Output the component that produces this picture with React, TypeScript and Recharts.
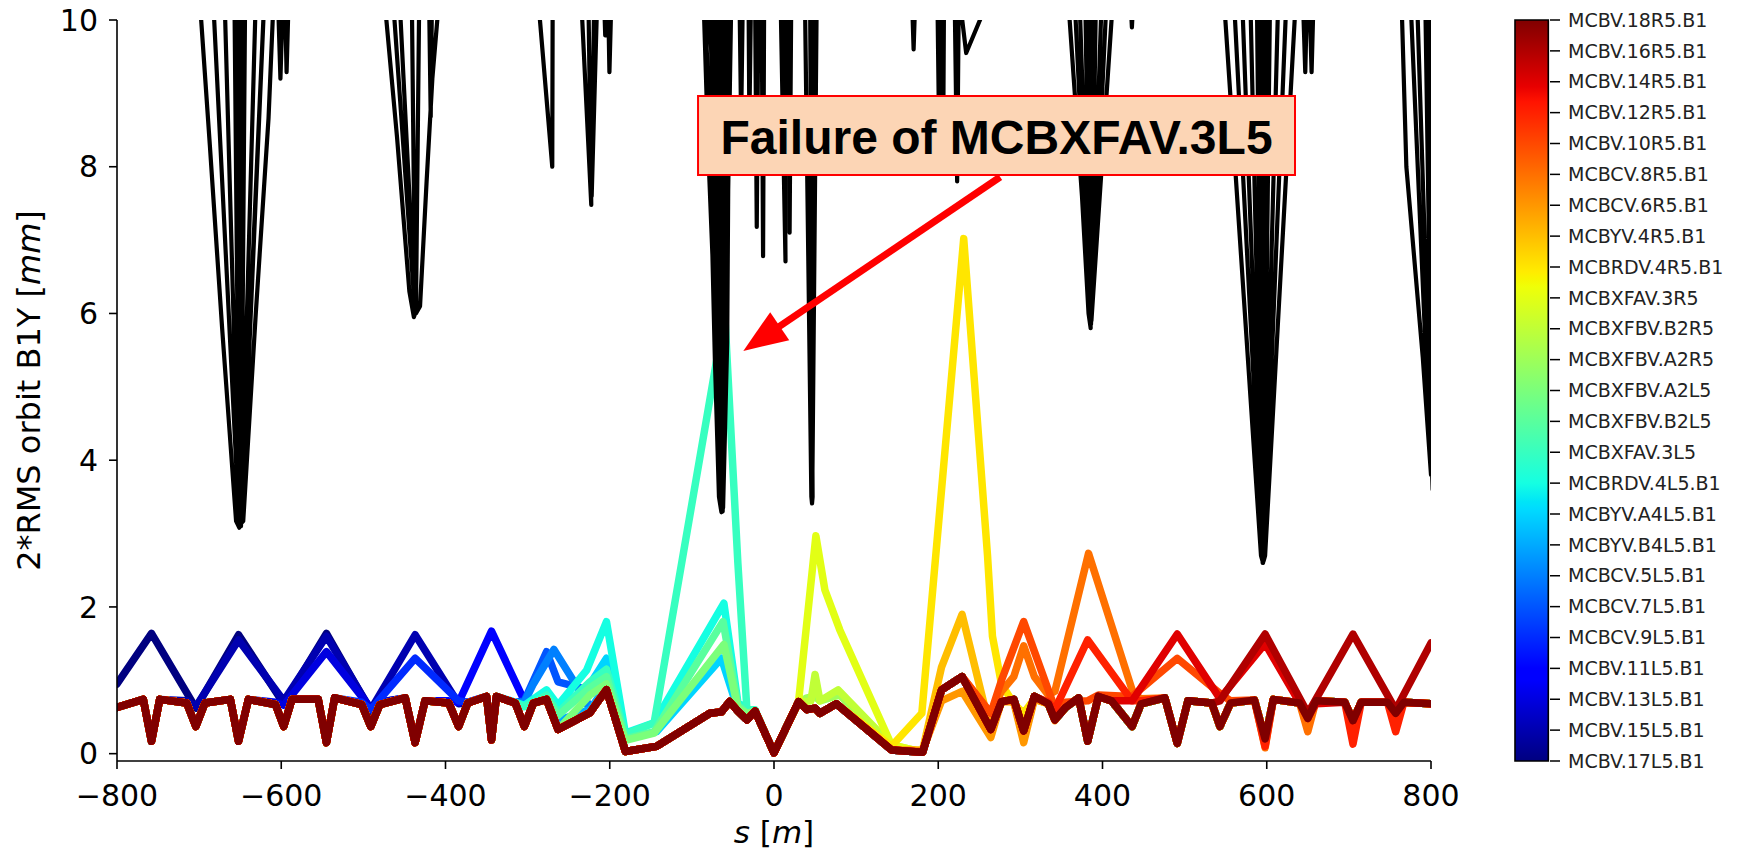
import React from 'react';
import { ComposedChart, BarChart, Bar, Line, XAxis, YAxis, ReferenceArea, ReferenceLine } from 'recharts';

type P = [number, number];

const FONT = '"DejaVu Sans", sans-serif';
const X_TICKS = [-800, -600, -400, -200, 0, 200, 400, 600, 800];
const Y_TICKS = [0, 2, 4, 6, 8, 10];

// colorbar labels, bottom (index 0) to top (index 24)
const CORRECTORS = [
  'MCBV.17L5.B1', 'MCBV.15L5.B1', 'MCBV.13L5.B1', 'MCBV.11L5.B1', 'MCBCV.9L5.B1', 'MCBCV.7L5.B1',
  'MCBCV.5L5.B1', 'MCBYV.B4L5.B1', 'MCBYV.A4L5.B1', 'MCBRDV.4L5.B1', 'MCBXFAV.3L5', 'MCBXFBV.B2L5',
  'MCBXFBV.A2L5', 'MCBXFBV.A2R5', 'MCBXFBV.B2R5', 'MCBXFAV.3R5', 'MCBRDV.4R5.B1', 'MCBYV.4R5.B1',
  'MCBCV.6R5.B1', 'MCBCV.8R5.B1', 'MCBV.10R5.B1', 'MCBV.12R5.B1', 'MCBV.14R5.B1', 'MCBV.16R5.B1',
  'MCBV.18R5.B1',
];

// common orbit response at the BPMs (s in m, 2*RMS in mm)
const BASE_S = [-800, -768, -758, -748, -715, -704, -693, -662, -652, -640, -607, -597, -587, -555, -545, -535, -502, -491, -480, -449, -437, -425, -396, -384, -373, -350, -344, -338, -315, -304, -293, -277, -263, -224, -212, -204, -181, -143, -78, -64, -54, -44, -33, -23, 0, 30, 40, 50, 56, 76, 143, 181, 204, 229, 264, 277, 292, 304, 317, 334, 342, 355, 371, 382, 395, 411, 436, 447, 476, 491, 504, 533, 543, 556, 585, 598, 608, 640, 650, 660, 695, 705, 715, 747, 757, 767, 800];
const BASE_V = [0.63, 0.74, 0.17, 0.74, 0.69, 0.37, 0.69, 0.74, 0.17, 0.74, 0.67, 0.37, 0.74, 0.74, 0.15, 0.76, 0.67, 0.37, 0.67, 0.76, 0.15, 0.72, 0.69, 0.37, 0.69, 0.78, 0.19, 0.78, 0.69, 0.37, 0.69, 0.74, 0.33, 0.56, 0.75, 0.87, 0.03, 0.10, 0.55, 0.57, 0.71, 0.58, 0.46, 0.58, 0.01, 0.71, 0.60, 0.62, 0.55, 0.68, 0.05, 0.02, 0.87, 1.05, 0.33, 0.71, 0.74, 0.31, 0.78, 0.68, 0.46, 0.63, 0.76, 0.17, 0.78, 0.72, 0.37, 0.68, 0.76, 0.14, 0.72, 0.69, 0.37, 0.69, 0.73, 0.20, 0.74, 0.69, 0.48, 0.72, 0.70, 0.45, 0.70, 0.70, 0.55, 0.70, 0.68];

// per-corrector deviations from the common response
const SEG_17L5: P[][] = [[[-800, 0.95], [-758, 1.64], [-704, 0.62], [-652, 1.62], [-597, 0.68], [-545, 1.64], [-491, 0.58], [-480, 0.7]]];
const SEG_15L5: P[][] = [[[-715, 0.72], [-704, 0.64], [-652, 1.55], [-597, 0.72], [-545, 1.6], [-491, 0.6], [-437, 1.62], [-384, 0.68], [-373, 0.7]]];
const SEG_13L5: P[][] = [[[-607, 0.7], [-597, 0.66], [-545, 1.39], [-491, 0.62], [-480, 0.7]]];
const SEG_11L5: P[][] = [[[-396, 0.72], [-384, 0.7], [-344, 1.67], [-304, 0.72], [-293, 0.7]]];
const SEG_9L5: P[][] = [[[-502, 0.7], [-491, 0.6], [-437, 1.3], [-384, 0.72], [-373, 0.7]]];
const SEG_7L5: P[][] = [[[-315, 0.7], [-304, 0.72], [-277, 1.39], [-263, 0.98], [-236, 0.9], [-224, 0.62]]];
const SEG_5L5: P[][] = [[[-304, 0.7], [-293, 0.95], [-268, 1.42], [-240, 0.92], [-224, 0.6]]];
const SEG_B4L5: P[][] = [[[-293, 0.7], [-277, 0.8], [-263, 0.45], [-224, 0.6], [-212, 0.8]]];
const SEG_A4L5: P[][] = [[[-293, 0.7], [-277, 0.82], [-263, 0.6], [-224, 0.95], [-204, 1.3], [-181, 0.2], [-143, 0.3], [-64, 1.3], [-44, 0.6], [-33, 0.5]]];
const SEG_RDV4L5: P[][] = [[[-315, 0.7], [-304, 0.66], [-277, 0.87], [-263, 0.66], [-228, 1.14], [-204, 1.8], [-181, 0.28], [-146, 0.42], [-61, 2.05], [-44, 0.7], [-33, 0.6]]];
const SEG_3L5: P[][] = [[[-304, 0.64], [-277, 0.8], [-263, 0.56], [-224, 0.98], [-204, 1.15], [-181, 0.26], [-146, 0.42], [-60, 6.0], [-44, 2.6], [-33, 0.6], [-23, 0.6]]];
const SEG_B2L5: P[][] = [[[-293, 0.68], [-277, 0.75], [-263, 0.52], [-224, 0.9], [-204, 1.05], [-181, 0.2], [-146, 0.3], [-62, 1.8], [-44, 0.66], [-33, 0.55]]];
const SEG_A2L5: P[][] = [[[-224, 0.8], [-204, 0.95], [-181, 0.18], [-146, 0.28], [-61, 1.49], [-44, 0.62], [-33, 0.55]]];
const SEG_A2R5: P[][] = [[[30, 0.7], [40, 0.76], [50, 0.78], [56, 0.72], [80, 0.8], [143, 0.1]]];
const SEG_B2R5: P[][] = [[[30, 0.7], [45, 0.72], [50, 1.08], [56, 0.72], [78, 0.87], [143, 0.12]]];
const SEG_3R5: P[][] = [[[30, 0.72], [51, 2.97], [62, 2.23], [80, 1.69], [143, 0.12]]];
const SEG_RDV4R5: P[][] = [[[143, 0.1], [180, 0.55], [231, 7.02], [260, 2.7], [266, 1.6], [277, 0.95], [292, 0.68], [304, 0.55], [317, 0.75]]];
const SEG_YV4R5: P[][] = [[[181, 0.05], [204, 1.18], [229, 1.9], [264, 0.3], [277, 0.7], [292, 0.72], [304, 0.2], [317, 0.75]]];
const SEG_6R5: P[][] = [[[181, 0.04], [204, 0.72], [229, 0.85], [264, 0.22], [277, 0.72], [292, 0.7], [304, 0.15], [317, 0.74], [334, 0.68], [342, 0.45], [355, 0.65]]];
const SEG_8R5: P[][] = [
  [[264, 0.55], [277, 0.85], [292, 1.05], [304, 1.47], [317, 1.05], [334, 0.8], [342, 0.85], [383, 2.73], [438, 0.8], [447, 0.75]],
  [[585, 0.73], [598, 0.08], [608, 0.74]],
  [[640, 0.69], [650, 0.3], [660, 0.72]],
];
const SEG_10R5: P[][] = [[[264, 0.55], [277, 1.0], [304, 1.8], [342, 0.62], [355, 0.7], [382, 0.72], [395, 0.8], [436, 0.78], [491, 1.3], [543, 0.82], [556, 0.72]]];
const SEG_12R5: P[][] = [
  [[334, 0.7], [342, 0.6], [382, 1.55], [436, 0.72], [447, 0.72]],
  [[585, 0.73], [598, 0.1], [608, 0.74]],
  [[695, 0.7], [705, 0.13], [715, 0.7]],
  [[747, 0.7], [757, 0.3], [767, 0.7]],
];
const SEG_14R5: P[][] = [[[436, 0.72], [491, 1.63], [543, 0.75], [598, 1.5], [650, 0.5], [660, 0.68]]];
const SEG_16R5: P[][] = [[[543, 0.72], [598, 1.63], [650, 0.55], [705, 1.63], [757, 0.6], [800, 1.51]]];
const SEG_18R5: P[][] = [];

const SERIES_SEGMENTS: P[][][] = [
  SEG_17L5, SEG_15L5, SEG_13L5, SEG_11L5, SEG_9L5, SEG_7L5, SEG_5L5, SEG_B4L5, SEG_A4L5, SEG_RDV4L5,
  SEG_3L5, SEG_B2L5, SEG_A2L5, SEG_A2R5, SEG_B2R5, SEG_3R5, SEG_RDV4R5, SEG_YV4R5, SEG_6R5, SEG_8R5,
  SEG_10R5, SEG_12R5, SEG_14R5, SEG_16R5, SEG_18R5,
];

// aperture-like black trace (values above 10 are clipped by the axis)
const BLACK_PTS: P[] = [
  [-820, 10.3], [-705, 10.3], [-697.5, 10], [-687, 8.3], [-672, 5.8], [-655, 3.17], [-651, 3.08],
  [-683, 10.3], [-669, 10.3], [-651, 3.1], [-657, 10.3], [-654, 10.3], [-650, 3.1], [-651, 10.3], [-647, 10.3], [-649, 3.1], [-644, 10.3], [-631, 10.3], [-649, 3.12], [-620.6, 10.3], [-648, 3.15], [-646.3, 3.17], [-631, 6.0], [-615.5, 8.66], [-610.4, 10], [-607, 10.3], [-604, 10.3], [-601, 9.2], [-598, 10.3], [-595.5, 10.3], [-593.5, 9.29], [-591, 10.3], [-587, 10.3],
  [-480, 10.3], [-472, 10], [-459, 8.4], [-444, 6.3], [-438.5, 5.95], [-437, 6.0], [-464, 10.3], [-456, 10.3], [-437, 6.05], [-441, 10.3], [-432, 10.3], [-436, 6.0], [-431, 6.1], [-423, 7.8], [-416, 9.2], [-410, 10], [-406, 10.3], [-420, 10.3], [-418, 8.68], [-416.5, 10.3],
  [-290, 10.3], [-285, 10], [-270, 8.0], [-269.5, 10.3],
  [-236, 10.3], [-233.5, 10], [-222.5, 7.48], [-226, 10.3], [-219, 10.3], [-222, 7.6], [-216, 10], [-214, 10.3], [-207, 10.3], [-205.5, 9.79], [-204, 10.3], [-202, 10.3], [-200.4, 9.29], [-198, 10.3],
  [-90, 10.3], [-85, 10], [-80, 8.2], [-75, 6.8], [-72, 5.38], [-67, 3.5], [-64, 3.29], [-63, 3.3], [-84, 10.3], [-82.5, 9.18], [-81, 10.3], [-78, 10.3], [-63.5, 3.3], [-75, 10.3], [-71, 10.3], [-63.5, 3.3], [-67, 10.3], [-63, 10.3], [-63, 3.3], [-59, 10.3], [-56, 10.3], [-62.5, 3.3], [-53, 10.3], [-52, 10.3], [-62, 3.35], [-57, 5.61], [-54.4, 10], [-52, 10.3],
  [-42, 10.3], [-40, 8.6], [-38, 10.3], [-31, 10.3], [-30, 8.6], [-28, 10.3], [-23, 10.3], [-21, 7.18], [-19, 10.3], [-15, 10.3], [-13.3, 6.78], [-12, 10.3],
  [8, 10.3], [14, 6.71], [12, 10.3], [17, 10.3], [19, 7.1], [21, 10.3], [24, 10.3],
  [37, 10.3], [38, 10], [45.5, 3.5], [46.3, 3.41], [47, 3.5], [44, 10.3], [49, 10.3], [46.5, 3.45], [52, 10.3],
  [168, 10.3], [170, 9.6], [172, 10.3], [199, 10.3], [201, 8.5], [203, 10.3], [205, 10.3], [206, 8.3], [207, 10.3], [220, 10.3], [223, 7.8], [225, 10.3], [226, 10.3], [234, 9.55], [262, 10.3],
  [355, 10.3], [360, 10], [375, 7.6], [383, 6.0], [385.6, 5.8], [366, 10.3], [372, 10.3], [385, 5.85], [379, 10.3], [383, 10.3], [385.5, 5.8], [388, 10.3], [392, 10.3], [386, 5.85], [399, 10.3], [405, 10.3], [386.5, 5.9], [411, 10], [413, 10.3], [434, 10.3], [435.8, 9.9], [437.5, 10.3],
  [545, 10.3], [549.6, 10], [593, 2.7], [595.5, 2.6], [560, 10.3], [570, 10.3], [595.5, 2.62], [580, 10.3], [588, 10.3], [595, 2.6], [592, 10.3], [596, 10.3], [595.5, 2.6], [600, 10.3], [604, 10.3], [596, 2.62], [614, 10.3], [624, 10.3], [596, 2.62], [598, 2.7], [632, 9.6], [634, 10], [636, 10.3], [644, 10.3], [646.9, 9.29], [649, 10.3], [652, 10.3], [654.6, 9.29], [657, 10.3], [662, 10.3],
  [760, 10.3], [764.8, 10], [770, 8.0], [790, 5.4], [800, 3.8], [775, 10.3], [783, 10.3], [802, 3.6], [793, 10.3], [798, 10.3], [806, 3.5], [820, 10.3],
];

// annotation (data coordinates)
const ANNOT_TEXT = 'Failure of MCBXFAV.3L5';
const ANNOT_BOX = { x1: -92.5, x2: 634.4, y1: 7.886, y2: 8.965 };
const ARROW_FROM = { x: 275.4, y: 7.86 };
const ARROW_TO = { x: -37.4, y: 5.49 };

// colorbar
const CB_TICKS = CORRECTORS.map((_, i) => i);
const CB_BAR = [{ name: 'corrector', span: CORRECTORS.length - 1 }];
const CB_STOPS = [0, 0.11, 0.125, 0.34, 0.35, 0.375, 0.5, 0.64, 0.65, 0.66, 0.89, 0.91, 1];

function jet(t: number): string {
  const c = (v: number) => Math.max(0, Math.min(1, v));
  let r = 0, g = 0, b = 0;
  if (t < 0.35) r = 0; else if (t < 0.66) r = (t - 0.35) / 0.31; else if (t < 0.89) r = 1; else r = 1 - 0.5 * (t - 0.89) / 0.11;
  if (t < 0.125) g = 0; else if (t < 0.375) g = (t - 0.125) / 0.25; else if (t < 0.64) g = 1; else if (t < 0.91) g = 1 - (t - 0.64) / 0.27; else g = 0;
  if (t < 0.11) b = 0.5 + 0.5 * t / 0.11; else if (t < 0.34) b = 1; else if (t < 0.65) b = 1 - (t - 0.34) / 0.31; else b = 0;
  const h = (v: number) => Math.round(c(v) * 255).toString(16).padStart(2, '0');
  return '#' + h(r) + h(g) + h(b);
}

function buildSeries(segs: P[][]) {
  let pts: P[] = BASE_S.map((s, i) => [s, BASE_V[i]] as P);
  for (const seg of segs) {
    const lo = seg[0][0];
    const hi = seg[seg.length - 1][0];
    pts = pts.filter(([s]) => s < lo || s > hi).concat(seg);
  }
  pts.sort((a, b) => a[0] - b[0]);
  return pts.map(([s, v]) => ({ s, v }));
}

const SERIES = SERIES_SEGMENTS.map((segs, i) => ({
  name: CORRECTORS[i],
  color: jet(i / (CORRECTORS.length - 1)),
  data: buildSeries(segs),
}));
const BLACK_DATA = BLACK_PTS.map(([s, v]) => ({ s, v }));

const fmtX = (v: number) => (v < 0 ? '\u2212' + Math.abs(v) : String(v));

const XLabel = (props: any) => {
  const vb = props.viewBox || {};
  const cx = vb.x + vb.width / 2;
  return (
    <text x={cx} y={vb.y + 82} textAnchor="middle" fontSize={31} fontFamily={FONT} fill="#000">
      <tspan fontStyle="italic">s</tspan>
      <tspan> [</tspan>
      <tspan fontStyle="italic">m</tspan>
      <tspan>]</tspan>
    </text>
  );
};

const YLabel = (props: any) => {
  const vb = props.viewBox || {};
  const cy = vb.y + vb.height / 2;
  const x = 40;
  return (
    <text x={x} y={cy} textAnchor="middle" fontSize={32} fontFamily={FONT} fill="#000" transform={`rotate(-90, ${x}, ${cy})`}>
      <tspan>2*RMS orbit B1Y [</tspan>
      <tspan fontStyle="italic">mm</tspan>
      <tspan>]</tspan>
    </text>
  );
};

const ArrowShape = (p: any) => {
  const { x1, y1, x2, y2 } = p;
  if ([x1, y1, x2, y2].some((v) => typeof v !== 'number' || isNaN(v))) return <g />;
  const dx = x2 - x1, dy = y2 - y1;
  const L = Math.hypot(dx, dy) || 1;
  const ux = dx / L, uy = dy / L;
  const hl = 44, hw = 17;
  const bx = x2 - ux * hl, by = y2 - uy * hl;
  const px = -uy, py = ux;
  return (
    <g>
      <line x1={x1} y1={y1} x2={bx + ux * 3} y2={by + uy * 3} stroke="#ff0000" strokeWidth={7} />
      <polygon points={`${x2},${y2} ${bx + px * hw},${by + py * hw} ${bx - px * hw},${by - py * hw}`} fill="#ff0000" />
    </g>
  );
};

const BoxLabel = (props: any) => {
  const vb = props.viewBox || {};
  const cx = vb.x + vb.width / 2;
  const cy = vb.y + vb.height / 2;
  return (
    <text x={cx} y={cy + 18} textAnchor="middle" fontSize={48} fontWeight="bold" fontFamily='"Liberation Sans", Arial, sans-serif' fill="#000">
      {ANNOT_TEXT}
    </text>
  );
};

const axisStroke = { stroke: '#000', strokeWidth: 1.6 };

export default function App() {
  return (
    <div style={{ position: 'relative', width: 1737, height: 852, margin: '-8px 0 0 -8px', background: '#fff', overflow: 'hidden' }}>
      <div style={{ position: 'absolute', left: 0, top: 0 }}>
        <ComposedChart width={1480} height={852} margin={{ top: 20, right: 49, bottom: 0, left: 0 }}>
          <XAxis
            type="number"
            dataKey="s"
            domain={[-800, 800]}
            ticks={X_TICKS}
            interval={0}
            allowDataOverflow
            height={91}
            tickSize={8}
            tickMargin={16}
            tickFormatter={fmtX}
            tick={{ fontSize: 30, fill: '#000', fontFamily: FONT }}
            axisLine={axisStroke}
            tickLine={axisStroke}
            label={XLabel}
          />
          <XAxis xAxisId="top" orientation="top" type="number" domain={[-800, 800]} allowDataOverflow height={0} tick={false} tickLine={false} axisLine={axisStroke} />
          <YAxis
            type="number"
            domain={[-0.1, 10]}
            ticks={Y_TICKS}
            interval={0}
            allowDataOverflow
            width={117}
            tickSize={8}
            tickMargin={11}
            tick={{ fontSize: 30, fill: '#000', fontFamily: FONT }}
            axisLine={axisStroke}
            tickLine={axisStroke}
            label={YLabel}
          />
          <YAxis yAxisId="right" orientation="right" type="number" domain={[-0.1, 10]} allowDataOverflow width={0} tick={false} tickLine={false} axisLine={axisStroke} />
          {SERIES.map((s) => (
            <Line
              key={s.name}
              name={s.name}
              data={s.data}
              dataKey="v"
              type="linear"
              stroke={s.color}
              strokeWidth={7.5}
              strokeLinejoin="round"
              strokeLinecap="round"
              dot={false}
              activeDot={false}
              isAnimationActive={false}
            />
          ))}
          <Line
            name="aperture"
            data={BLACK_DATA}
            dataKey="v"
            type="linear"
            stroke="#000"
            strokeWidth={4.2}
            strokeLinejoin="round"
            dot={false}
            activeDot={false}
            isAnimationActive={false}
          />
          <ReferenceArea
            x1={ANNOT_BOX.x1}
            x2={ANNOT_BOX.x2}
            y1={ANNOT_BOX.y1}
            y2={ANNOT_BOX.y2}
            fill="#fcd5b5"
            fillOpacity={1}
            stroke="#ff0000"
            strokeWidth={2}
            ifOverflow="visible"
            label={BoxLabel}
            zIndex={2500}
          />
          <ReferenceLine segment={[ARROW_FROM, ARROW_TO]} ifOverflow="visible" shape={ArrowShape} zIndex={2600} />
        </ComposedChart>
      </div>
      <div style={{ position: 'absolute', left: 1490, top: 0 }}>
        <BarChart width={247} height={852} data={CB_BAR} margin={{ top: 20, right: 0, bottom: 91, left: 23 }} barCategoryGap={0}>
          <defs>
            <linearGradient id="jetGrad" x1="0" y1="0" x2="0" y2="1">
              {CB_STOPS.slice().reverse().map((t) => (
                <stop key={t} offset={`${(1 - t) * 100}%`} stopColor={jet(t)} />
              ))}
            </linearGradient>
          </defs>
          <XAxis type="category" dataKey="name" hide />
          <YAxis
            type="number"
            orientation="right"
            domain={[0, 24]}
            ticks={CB_TICKS}
            interval={0}
            width={187}
            tickFormatter={(i: number) => CORRECTORS[i]}
            axisLine={false}
            tickSize={10}
            tickMargin={8}
            tick={{ fontSize: 19, fill: '#222', fontFamily: FONT }}
            tickLine={{ stroke: '#000', strokeWidth: 1.5 }}
          />
          <Bar dataKey="span" fill="url(#jetGrad)" stroke="#000" strokeWidth={1.6} barSize={37} isAnimationActive={false} />
        </BarChart>
      </div>
    </div>
  );
}
